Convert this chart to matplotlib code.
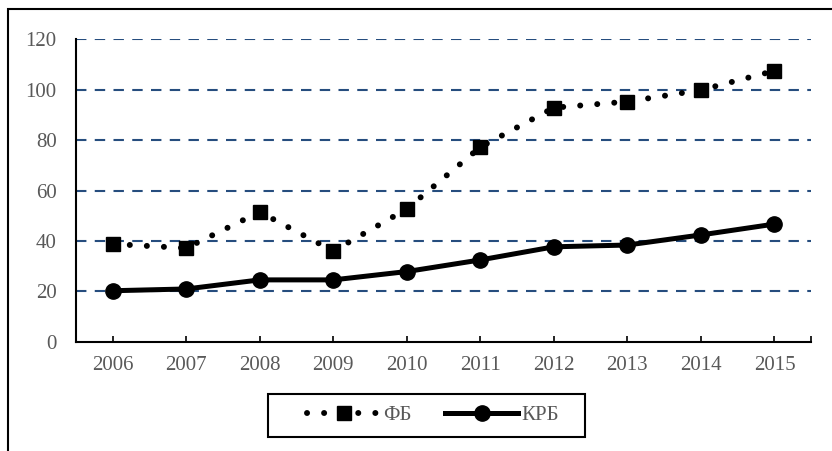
import matplotlib
matplotlib.use('Agg')
import matplotlib.pyplot as plt
from matplotlib.patches import Rectangle

years = ['2006', '2007', '2008', '2009', '2010', '2011', '2012', '2013', '2014', '2015']
fb = [38.8, 37.2, 51.5, 36.0, 52.7, 77.2, 92.8, 95.2, 99.8, 107.4]
krb = [20.3, 21.0, 24.6, 24.6, 27.9, 32.5, 37.7, 38.4, 42.4, 46.7]
y_ticks = [0, 20, 40, 60, 80, 100, 120]

plt.rcParams['font.family'] = ['Liberation Serif', 'DejaVu Serif']

fig = plt.figure(figsize=(8.32, 4.51), dpi=100)
ax = fig.add_axes([0.0913, 0.2417, 0.8837, 0.6718])

x = list(range(len(years)))

for v in y_ticks[1:]:
    ax.axhline(v, color='#264d7e', lw=1.5, linestyle=(0, (5, 4)), zorder=1)

ax.plot(x, fb, color='black', lw=4.3, linestyle=(0, (0.01, 2.85)),
        dash_capstyle='round', marker='s', markersize=10, label='ФБ', zorder=3)
ax.plot(x, krb, color='black', lw=3.6, marker='o', markersize=11,
        label='КРБ', zorder=3)

ax.set_xlim(-0.5, 9.5)
ax.set_ylim(0, 120)
ax.set_xticks(x)
ax.set_xticklabels(years)
ax.set_xticks([9.5], minor=True)
ax.set_yticks(y_ticks)

for s in ['top', 'right']:
    ax.spines[s].set_visible(False)
for s in ['left', 'bottom']:
    ax.spines[s].set_linewidth(1.5)
    ax.spines[s].set_zorder(4)

ax.tick_params(axis='x', which='both', direction='in', length=4, width=1.2,
               pad=10, labelsize=15, labelcolor='#595959')
ax.tick_params(axis='y', length=0, pad=14, labelsize=15, labelcolor='#595959')

# legend without its own frame; the box is drawn separately (wider padding like Excel)
leg = ax.legend(loc='center', bbox_to_anchor=(433 / 832, 1 - 415.5 / 451), bbox_transform=fig.transFigure,
                ncol=2, fontsize=15, frameon=False,
                handlelength=3.5, columnspacing=1.6, handletextpad=0.15,
                borderpad=0.4, borderaxespad=0)
for t in leg.get_texts():
    t.set_color('#595959')

fig.patches.append(Rectangle((268 / 832, 1 - 437 / 451), (585 - 268) / 832, 43 / 451,
                             transform=fig.transFigure, fill=False,
                             edgecolor='black', lw=1.5))

fig.patches.append(Rectangle((8 / 832, -0.1), 1.0, 1.1 - 9 / 451,
                             transform=fig.transFigure, fill=False,
                             edgecolor='black', lw=1.5))

fig.savefig('out.png', dpi=100)
